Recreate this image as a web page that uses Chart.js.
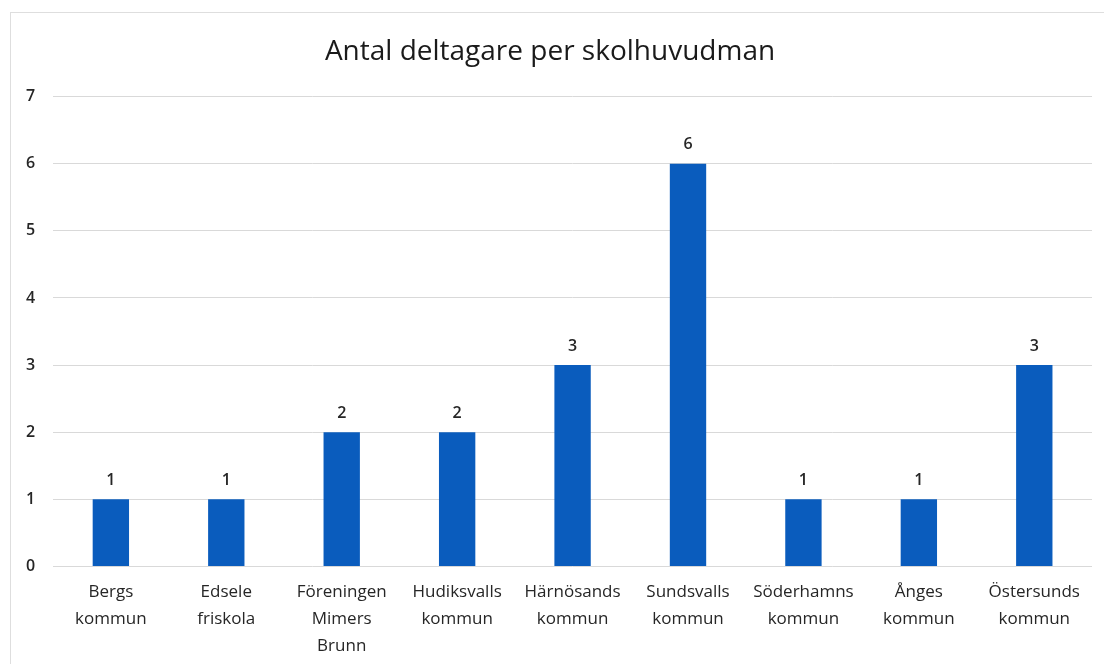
<!DOCTYPE html>
<html>
<head>
<meta charset="utf-8">
<script src="https://cdn.jsdelivr.net/npm/chart.js@4"></script>
<style>
    body { margin: 0; background: #fff; overflow: hidden; }
    .frame { position: absolute; left: 10px; top: 12px; width: 1110px; height: 670px; border: 1px solid #dedede; }
    .wrap { position: absolute; left: 0; top: 0; width: 1104px; height: 664px; }
</style>
</head>
<body>
<div class="frame"></div>
<div class="wrap"><canvas id="deltagareChart"></canvas></div>
<script>
const categories = [
    ['Bergs', 'kommun'],
    ['Edsele', 'friskola'],
    ['Föreningen', 'Mimers', 'Brunn'],
    ['Hudiksvalls', 'kommun'],
    ['Härnösands', 'kommun'],
    ['Sundsvalls', 'kommun'],
    ['Söderhamns', 'kommun'],
    ['Ånges', 'kommun'],
    ['Östersunds', 'kommun']
];
const deltagare = [1, 1, 2, 2, 3, 6, 1, 1, 3];
const yTicks = [0, 1, 2, 3, 4, 5, 6, 7];

const barLabels = {
    id: 'barLabels',
    afterDatasetsDraw(chart) {
        const c = chart.ctx;
        c.save();
        c.font = '600 16px "Open Sans"';
        c.fillStyle = '#262626';
        c.textAlign = 'center';
        c.textBaseline = 'bottom';
        chart.getDatasetMeta(0).data.forEach((bar, i) => {
            c.fillText(deltagare[i], bar.x, bar.y - 11);
        });
        c.restore();
    }
};

document.addEventListener('DOMContentLoaded', function() {
    const ctx = document.getElementById('deltagareChart');
    new Chart(ctx.getContext('2d'), {
        type: 'bar',
        data: {
            labels: categories,
            datasets: [{
                label: 'Antal deltagare',
                data: deltagare,
                backgroundColor: '#0a5cbd',
                barPercentage: 0.63,
                categoryPercentage: 0.5
            }]
        },
        options: {
            responsive: true,
            maintainAspectRatio: false,
            animation: false,
            layout: { padding: { left: 8, right: 12, top: 35, bottom: 0 } },
            plugins: {
                legend: { display: false },
                tooltip: { enabled: false },
                title: {
                    display: true,
                    text: 'Antal deltagare per skolhuvudman',
                    color: '#1a1a1a',
                    font: { family: 'Open Sans', size: 28, weight: 'normal' },
                    padding: { top: 0, bottom: 28 }
                }
            },
            scales: {
                y: {
                    min: 0,
                    max: 7,
                    afterBuildTicks: axis => { axis.ticks = yTicks.map(v => ({ value: v })); },
                    border: { display: false },
                    grid: { color: '#d9d9d9', drawTicks: false },
                    ticks: { color: '#262626', padding: 18, font: { family: 'Open Sans', size: 16, weight: 600 } }
                },
                x: {
                    border: { display: false },
                    grid: { display: false },
                    ticks: { color: '#262626', padding: 4, maxRotation: 0, autoSkip: false, font: { family: 'Open Sans', size: 17, lineHeight: 1.6 } }
                }
            }
        },
        plugins: [barLabels]
    });
});
</script>
</body>
</html>
